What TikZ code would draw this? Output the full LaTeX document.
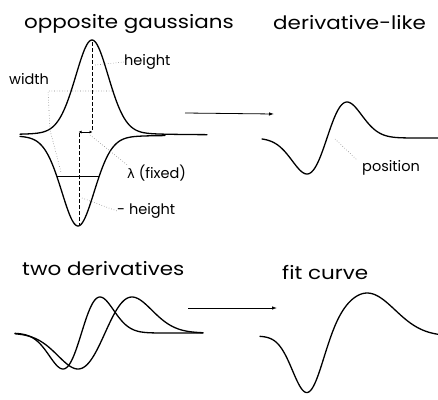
\documentclass[tikz,border=0pt]{standalone}
\usepackage{fontspec}
\setmainfont{Poppins}
\newfontfamily\titlefont[FakeStretch=1.16]{Poppins}
\newfontfamily\grk{DejaVu Sans}
\usetikzlibrary{arrows.meta}
\begin{document}
\begin{tikzpicture}[x=1pt,y=-1pt,
  curve/.style={line width=1.3pt, line join=round, line cap=round},
  guide/.style={line width=1pt, dash pattern=on 3.5pt off 2.5pt},
  leader/.style={line width=0.6pt, gray, dash pattern=on 0.6pt off 2pt},
  flow/.style={line width=0.8pt, -{Latex[length=5pt,width=3.5pt]}},
  title/.style={font=\titlefont\fontsize{18.5}{20}\selectfont, anchor=base west, inner sep=0pt},
  lab/.style={font=\fontsize{14.5}{16}\selectfont, anchor=west, inner sep=0pt}]
\useasboundingbox (0,0) rectangle (438,399);
% titles
\node[title] (t1) at (24,28) {opposite gaussians};
\node[title] (t2) at (273,29) {derivative-like};
\node[title] (t3) at (22,275) {two derivatives};
\node[title] (t4) at (282,279) {fit curve};
% opposite gaussians
\draw[curve] plot[domain=20:207, samples=160, smooth]
  (\x, {135 - 95*(0.85*exp(-((\x-92)/17)^2/2) + 0.15/(1+((\x-92)/18)^2))});
\draw[curve] plot[domain=20:165, samples=140, smooth]
  (\x, {135 + 91*(0.85*exp(-((\x-78)/17)^2/2) + 0.15/(1+((\x-78)/18)^2))});
\coordinate (ptop) at (92,42);
\coordinate (pbot) at (92,131);
\coordinate (nbot) at (79,225);
\coordinate (ntop) at (79,133);
\draw[guide] (ptop) -- (pbot);
\draw[guide] (ntop) -- (nbot);
\draw[line width=0.9pt, {Latex[length=3pt,width=3pt]}-{Latex[length=3pt,width=3pt]}] (78.5,132) -- (92.5,132);
\coordinate (w1) at (57,176);
\coordinate (w2) at (99,176);
\draw[line width=0.9pt] (w1) -- (w2);
% labels
\node[lab] (lh) at (124,62) {height};
\node[lab] (lw) at (9,79) {width};
\node[lab] (ll) at (127,173) {{\grk\fontsize{13}{15}\selectfont λ} (fixed)};
\node[lab] (lnh) at (117,211) {- height};
\draw[leader] (95,65) -- (lh.west);
\draw[leader] (112,91) -- (48,91) -- (50,130) -- (61,172);
\draw[leader] (90,135) -- (ll.north west);
\draw[leader] (82,198) -- (lnh.west);
% arrow 1
\coordinate (a1s) at (185,113);
\coordinate (a1e) at (274,114);
\draw[flow] (a1s) -- (a1e);
% derivative-like
\draw[curve] plot[domain=262:438, samples=160, smooth]
  (\x, {138 - 36*((\x-327)/20)*exp((1-((\x-327)/20)^2)/2)});
\node[lab] (lp) at (362,168) {position};
\draw[leader] (335,139) -- (357,160);
% two derivatives
\draw[curve] plot[domain=15:203, samples=160, smooth]
  (\x, {333 - 36*((\x-81.5)/18.5)*exp((1-((\x-81.5)/18.5)^2)/2)});
\draw[curve] plot[domain=15:203, samples=160, smooth]
  (\x, {333 - 36*((\x-105)/27)*exp((1-((\x-105)/27)^2)/2)});
% arrow 2
\coordinate (a2s) at (188,308);
\coordinate (a2e) at (277,308);
\draw[flow] (a2s) -- (a2e);
% fit curve
\draw[curve] plot[domain=260:438, samples=160, smooth]
  (\x, {336 + 61*exp(-((\x-308)/15)^2/2) - 43*exp(-((\x-367)/28)^2/2)});
\end{tikzpicture}
\end{document}
